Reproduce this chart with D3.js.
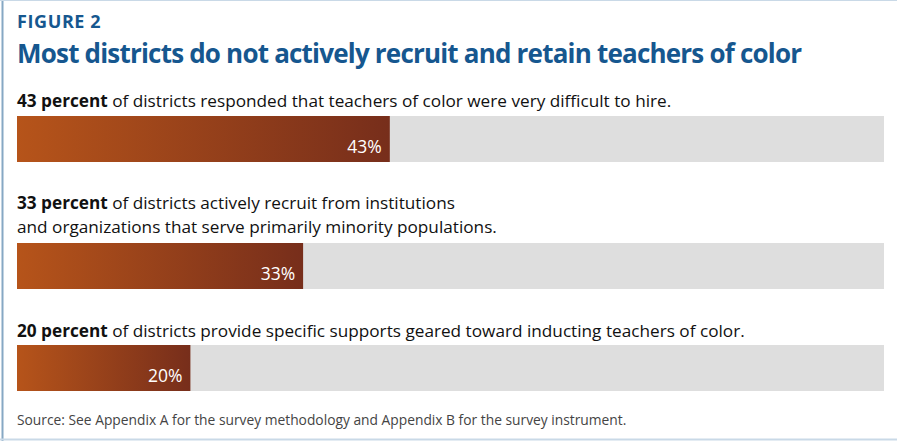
<!DOCTYPE html>
<html>
<head>
<meta charset="utf-8">
<script src="https://cdn.jsdelivr.net/npm/d3@7"></script>
<style>
  body { margin: 0; background: #fff; }
  svg { display: block; font-family: "Open Sans", sans-serif; }
</style>
</head>
<body>
<div id="chart"></div>
<script>
const values = [43, 33, 20]
const boldParts = ["43 percent", "33 percent", "20 percent"]
const restLines = [
  [" of districts responded that teachers of color were very difficult to hire."],
  [" of districts actively recruit from institutions", "and organizations that serve primarily minority populations."],
  [" of districts provide specific supports geared toward inducting teachers of color."]
]
const valueLabels = ["43%", "33%", "20%"]
const figureLabel = "FIGURE 2"
const title = "Most districts do not actively recruit and retain teachers of color"
const source = "Source: See Appendix A for the survey methodology and Appendix B for the survey instrument."

const width = 897, height = 441
const barTops = [116, 243, 345]
const labelBase = [107, 209, 337]
const barH = 46

const svg = d3.select("#chart").append("svg")
  .attr("width", width)
  .attr("height", height)

// frame
svg.append("line").attr("x1", 2.5).attr("x2", 2.5).attr("y1", 0).attr("y2", height)
  .attr("stroke", "#86a8c4").attr("stroke-width", 2)
svg.append("line").attr("x1", 0).attr("x2", width).attr("y1", 0.5).attr("y2", 0.5)
  .attr("stroke", "#c9d9e7")
svg.append("line").attr("x1", 0).attr("x2", width).attr("y1", 439.5).attr("y2", 439.5)
  .attr("stroke", "#c9d9e7").attr("stroke-width", 2)

svg.append("text").attr("x", 17).attr("y", 28)
  .attr("fill", "#16578f").attr("font-weight", "bold").attr("font-size", 18)
  .attr("letter-spacing", 0.6)
  .text(figureLabel)

svg.append("text").attr("x", 17).attr("y", 63)
  .attr("fill", "#16578f").attr("font-weight", "bold").attr("font-size", 26)
  .attr("textLength", 785).attr("lengthAdjust", "spacing")
  .text(title)

const x = d3.scaleLinear().domain([0, 100]).range([17, 884])

const defs = svg.append("defs")
const grad = defs.append("linearGradient").attr("id", "barGrad")
  .attr("x1", "0%").attr("x2", "100%")
grad.append("stop").attr("offset", "0%").attr("stop-color", "#b6541a")
grad.append("stop").attr("offset", "100%").attr("stop-color", "#772e1b")

const groups = svg.selectAll("g.item")
  .data(values)
  .join("g")
  .attr("class", "item")

groups.each(function (v, i) {
  const g = d3.select(this)
  const lines = restLines[i]
  lines.forEach((line, j) => {
    const t = g.append("text")
      .attr("x", 17)
      .attr("y", labelBase[i] + j * 24)
      .attr("font-size", 17.2)
      .attr("fill", "#111")
    if (j == 0) {
      t.append("tspan").attr("font-weight", "bold").text(boldParts[i])
      t.append("tspan").text(line)
    } else {
      t.text(line)
    }
  })

  g.append("rect")
    .attr("x", x(0)).attr("y", barTops[i])
    .attr("width", x(100) - x(0)).attr("height", barH)
    .attr("fill", "#dedede")
  g.append("rect")
    .attr("x", x(0)).attr("y", barTops[i])
    .attr("width", x(v) - x(0)).attr("height", barH)
    .attr("fill", "url(#barGrad)")
  g.append("text")
    .attr("x", x(v) - 8)
    .attr("y", barTops[i] + barH - 9)
    .attr("text-anchor", "end")
    .attr("fill", "#fff")
    .attr("font-size", 17.5)
    .text(valueLabels[i])
})

svg.append("text").attr("x", 17).attr("y", 425)
  .attr("fill", "#444").attr("font-size", 13.8)
  .text(source)
</script>
</body>
</html>
